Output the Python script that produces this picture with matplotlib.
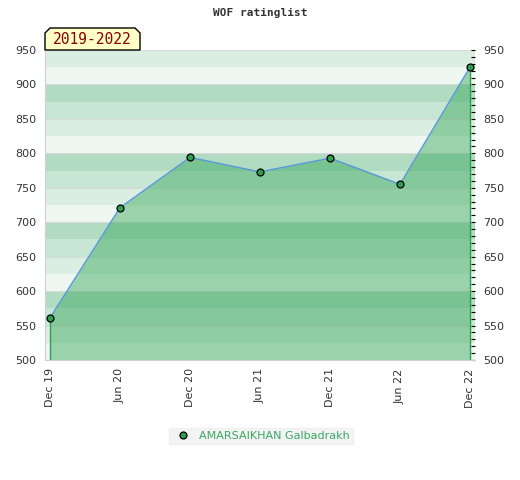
import matplotlib
matplotlib.use("Agg")
import matplotlib.pyplot as plt
from matplotlib.patches import Polygon
from matplotlib.ticker import MultipleLocator

dates = ["Dec 19", "Jun 20", "Dec 20", "Jun 21", "Dec 21", "Jun 22", "Dec 22"]
ratings = [561, 721, 794, 773, 793, 755, 925]
player = "AMARSAIKHAN Galbadrakh"
period = "2019-2022"
title = "WOF ratinglist"

band_colors = ["#b1dcc2", "#c8e6d4", "#dbeee2", "#eef7f2"]  # from top of each 100

fig = plt.figure(figsize=(5.2, 4.8), dpi=100)
ax = fig.add_axes([45 / 520, 120 / 480, 430 / 520, 310 / 480])

x = list(range(len(dates)))
ymin, ymax = 500, 950

# background bands every 25 points
for lo in range(ymin, ymax, 25):
    idx = (3 - (lo % 100) // 25) % 4
    ax.axhspan(lo, lo + 25, color=band_colors[idx], lw=0, zorder=0)
for g in range(ymin, ymax + 1, 50):
    ax.axhline(g, color="#dadada", lw=0.8, zorder=0.5)

ax.fill_between(x, ratings, ymin, color="#2fa353", alpha=0.44, lw=0, zorder=1)
ax.vlines([x[0], x[-1]], ymin, [ratings[0], ratings[-1]], color="#2e9e4e", lw=1, zorder=2)
ax.plot(x, ratings, color="#5b9bd5", lw=1.1, zorder=3)
ax.plot(x, ratings, "o", ms=5, mfc="#2e9e4e", mec="black", mew=0.9, zorder=4,
        label=player)

ax.set_xlim(-0.071, 6.071)
ax.set_ylim(ymin, ymax)
ax.set_xticks(x)
ax.set_xticklabels(dates, rotation=90, fontsize=8, color="#333333")
ax.set_yticks(range(ymin, ymax + 1, 50))
ax.tick_params(axis="y", which="both", left=False, right=True, labelright=True,
               labelleft=True, direction="in", labelsize=8, labelcolor="#333333",
               length=3, pad=6, color="black")
ax.yaxis.set_minor_locator(MultipleLocator(10))
ax.tick_params(axis="y", which="minor", length=3, width=0.8)
ax.tick_params(axis="x", length=0, pad=6)
for s in ["top", "right"]:
    ax.spines[s].set_visible(False)
ax.spines["left"].set_color("#d0d0d0")
ax.spines["bottom"].set_color("#d0d0d0")

fig.text(0.5, 1 - 13 / 480, title, ha="center", va="center", fontsize=8,
         family="DejaVu Sans Mono", fontweight="bold", color="#333333")

# period label box with cut corners
px = [45, 45, 50, 135, 140, 140]
py = [50, 33, 28, 28, 33, 50]
box = Polygon([(a / 520, 1 - b / 480) for a, b in zip(px, py)], closed=True,
              transform=fig.transFigure, fc="#ffffc6", ec="black", lw=1, zorder=5)
fig.patches.append(box)
fig.text(92 / 520, 1 - 40 / 480, period, ha="center", va="center", fontsize=10.5,
         family="DejaVu Sans Mono", color="#8b0000", zorder=6)

leg = fig.legend(loc="center", bbox_to_anchor=(261 / 520, 1 - 436 / 480), frameon=True,
                 fontsize=8, handletextpad=0.4, borderpad=0.3, fancybox=False)
leg.get_frame().set_facecolor("#f0f0f0")
leg.get_frame().set_edgecolor("#f0f0f0")
for t in leg.get_texts():
    t.set_color("#3aa862")

fig.savefig("out.png", dpi=100)
